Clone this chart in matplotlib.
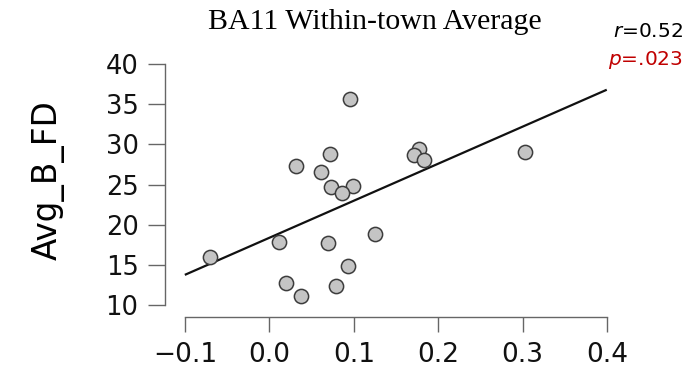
import numpy as np
import matplotlib
matplotlib.use("Agg")
import matplotlib.pyplot as plt

# values
x_vals = [0.0955, 0.0718, 0.0311, 0.0615, 0.0734, 0.0990, 0.0860, 0.1777, 0.1713,
          0.1832, 0.3028, -0.0704, 0.0110, 0.0698, 0.1247, 0.0928, 0.0200, 0.0374, 0.0793]
y_vals = [35.6, 28.8, 27.3, 26.6, 24.7, 24.8, 24.0, 29.4, 28.7,
          28.0, 29.0, 16.0, 17.8, 17.75, 18.8, 14.8, 12.7, 11.1, 12.35]
fit_intercept = 18.37
fit_slope = 46.1
fit_range = [-0.099, 0.3985]
x_ticks = [-0.1, 0.0, 0.1, 0.2, 0.3, 0.4]
y_ticks = [10, 15, 20, 25, 30, 35, 40]
title = "BA11 Within-town Average"
ylabel = "Avg_B_FD"
r_text = "$r$=0.52"
p_text = "$p$=.023"

fig = plt.figure(figsize=(6.88, 3.73), dpi=100)
ax = fig.add_axes([165 / 688, 1 - 317 / 373, 462 / 688, 267 / 373])

ax.scatter(x_vals, y_vals, s=105, facecolor="#c4c4c4", edgecolor="#3c3c3c",
           linewidth=1.1, zorder=3)
fx = np.array(fit_range)
ax.plot(fx, fit_intercept + fit_slope * fx, color="#111111", lw=1.6, zorder=2)

ax.set_xlim(-0.1 - 20 / 844, 0.4 + 20 / 844)
ax.set_ylim(10 - 12 / 8.03, 40 + 14 / 8.03)
ax.set_xticks(x_ticks)
ax.set_yticks(y_ticks)
ax.set_xticklabels(["\u22120.1", "0.0", "0.1", "0.2", "0.3", "0.4"])

for s in ["top", "right"]:
    ax.spines[s].set_visible(False)
ax.spines["left"].set_bounds(10, 40)
ax.spines["bottom"].set_bounds(-0.1, 0.4)
for s in ["left", "bottom"]:
    ax.spines[s].set_color("#666666")
    ax.spines[s].set_linewidth(1.0)
ax.tick_params(direction="out", width=1.0, color="#666666",
               labelcolor="#111111", pad=7)
ax.tick_params(axis="x", length=11, labelsize=19)
ax.tick_params(axis="y", length=12, labelsize=18.5)

ax.set_ylabel(ylabel, fontsize=23.5)
ax.yaxis.set_label_coords(-0.218, 0.513)
fig.text(375 / 688, 1 - 29 / 373, title, ha="center", va="baseline",
         fontsize=21.5, family="Liberation Serif")
fig.text(683 / 688, 1 - 37 / 373, r_text, ha="right", va="baseline",
         fontsize=14.5, color="black")
fig.text(683 / 688, 1 - 65 / 373, p_text, ha="right", va="baseline",
         fontsize=14.5, color="#c00000")

fig.savefig("out.png", dpi=100)
